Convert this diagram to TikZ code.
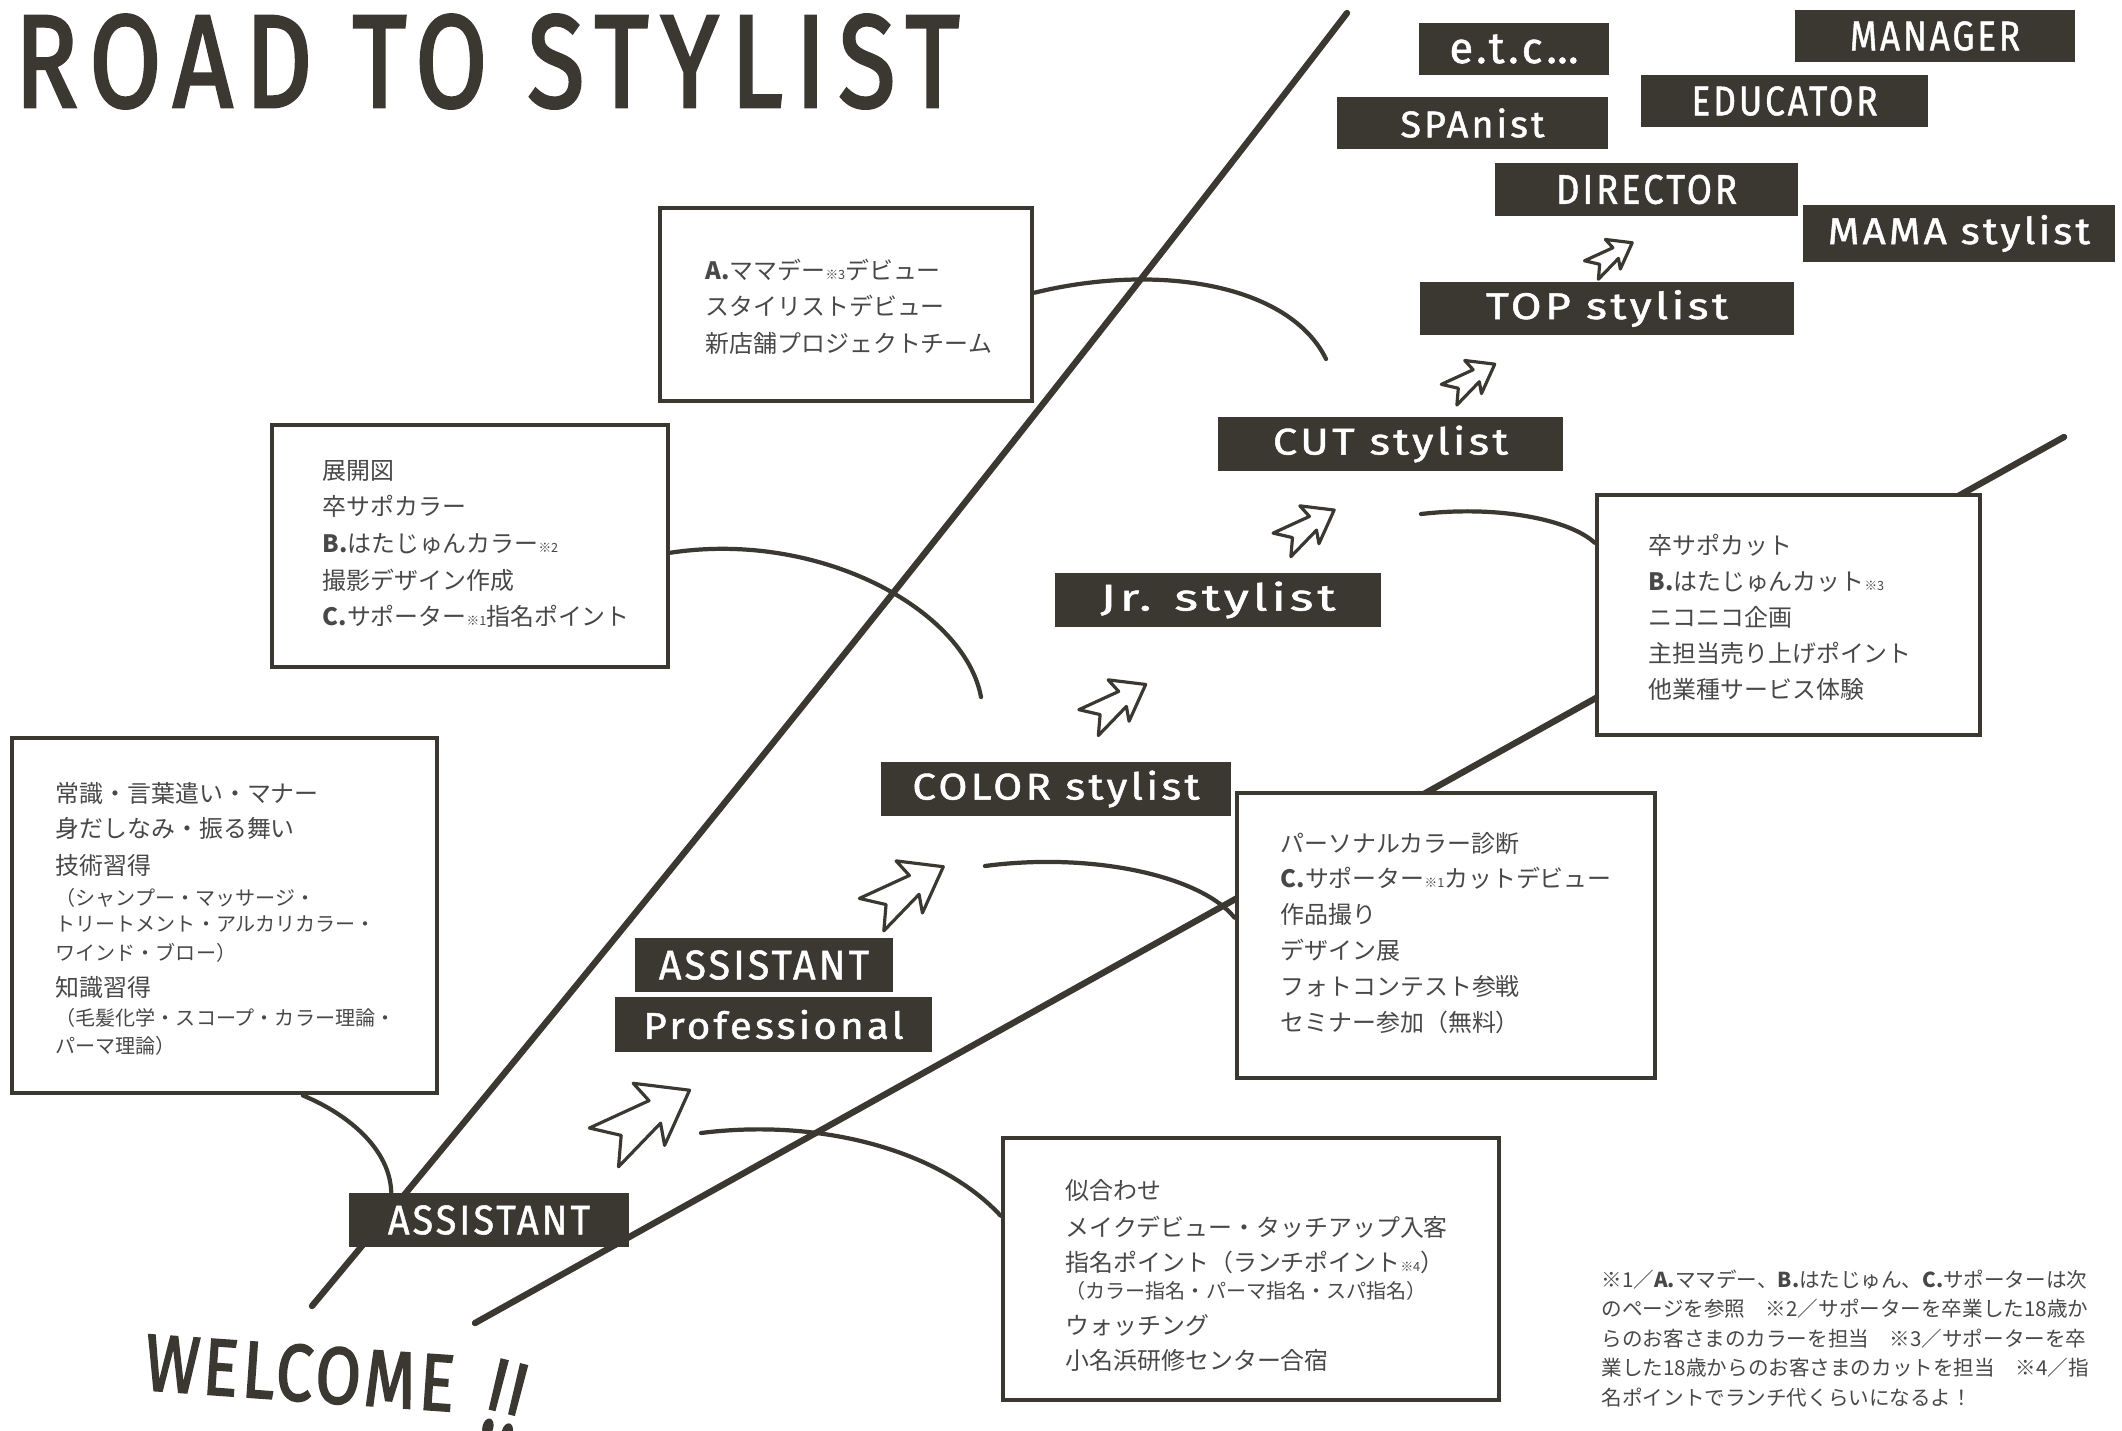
\documentclass[tikz,border=0pt]{standalone}
\usepackage{fontspec}
\usepackage{graphicx}
\newfontfamily\jp{Noto Sans CJK JP}
\newfontfamily\labf[LetterSpace=8, FakeBold=1.2]{Fira Sans}
\newfontfamily\titf[LetterSpace=12, FakeBold=2.5]{Fira Sans}
\newfontfamily\welf[LetterSpace=6, FakeBold=2.5]{Fira Sans}
\definecolor{ink}{HTML}{3B3731}
\definecolor{txt}{HTML}{484848}
\newcommand\lbl[2]{\resizebox{#1}{0.29cm}{\labf #2}}
\newcommand\smk[1]{{\fontsize{3.6pt}{4pt}\selectfont #1}}
\tikzset{
  road/.style={draw=ink, line width=1.8pt, line cap=round},
  conn/.style={draw=ink, line width=1.2pt, line cap=round},
  lab/.style={fill=ink, text=white, inner sep=0pt, minimum height=0.54cm},
  tbox/.style={draw=ink, line width=1.3pt, fill=white, inner sep=0pt},
  jl/.style={anchor=base west, inner sep=0pt, text=txt, font={\jp\fontsize{6.8pt}{8pt}\selectfont}},
  js/.style={jl, font={\jp\fontsize{5.7pt}{7pt}\selectfont}},
  fn/.style={jl, font={\jp\fontsize{5.85pt}{7pt}\selectfont}},
  fwd/.pic={\draw[ink, line width=0.9pt, fill=white, line join=round]
     (50,0) -- (2,32) -- (10,12) -- (-46,26) -- (-28,2) -- (-50,-20) -- (12,-12) -- (8,-34) -- cycle;}
}
\begin{document}
\begin{tikzpicture}[x=0.01cm, y=-0.01cm]
\useasboundingbox[fill=white] (0,0) rectangle (2122,1430);

% title
\node[anchor=north west, inner sep=0pt, text=ink] (title) at (14,14)
  {\resizebox{9.44cm}{0.92cm}{\titf ROAD TO STYLIST}};

% road lines
\coordinate (r1a) at (312,1306);
\coordinate (r1b) at (1347,13);
\coordinate (r2a) at (475,1323);
\coordinate (r2b) at (2064,437);
\draw[road] (r1a) .. controls (700,840) and (1050,400) .. (r1b);
\draw[road] (r2a) -- (r2b);

\coordinate (c2s) at (701,1133);
\coordinate (c3s) at (985,866);
\coordinate (c4e) at (981,697);
\coordinate (c5e) at (1326,359);
\coordinate (c6s) at (1421,514);

% text boxes
\node[tbox, minimum width=3.72cm, minimum height=1.93cm] (boxA) at (846,304.5) {};
\node[tbox, minimum width=3.96cm, minimum height=2.42cm] (boxB) at (470,546) {};
\node[tbox, minimum width=4.25cm, minimum height=3.55cm] (boxL) at (224.5,915.5) {};
\node[tbox, minimum width=3.83cm, minimum height=2.40cm] (boxR) at (1788.5,615) {};
\node[tbox, minimum width=4.18cm, minimum height=2.85cm] (boxP) at (1446,935.5) {};
\node[tbox, minimum width=4.96cm, minimum height=2.62cm] (boxN) at (1251,1269) {};

% label boxes
\node[lab, minimum width=2.80cm] (asst) at (489,1220) {\lbl{2.02cm}{ASSISTANT}};
\node[lab, minimum width=2.58cm] (asst2) at (764,965) {\lbl{2.10cm}{ASSISTANT}};
\node[lab, minimum width=3.17cm, minimum height=0.55cm] (prof) at (773.5,1024.5) {\lbl{2.60cm}{Professional}};
\node[lab, minimum width=3.50cm] (color) at (1056,789) {\lbl{2.87cm}{COLOR stylist}};
\node[lab, minimum width=3.26cm] (jr) at (1218,600) {\lbl{2.35cm}{Jr. stylist}};
\node[lab, minimum width=3.45cm] (cut) at (1390.5,444) {\lbl{2.35cm}{CUT stylist}};
\node[lab, minimum width=3.74cm, minimum height=0.53cm] (top) at (1607,308.5) {\lbl{2.42cm}{TOP stylist}};
\node[lab, minimum width=3.03cm, minimum height=0.53cm] (director) at (1646.5,189.5) {\lbl{1.81cm}{DIRECTOR}};
\node[lab, minimum width=3.12cm, minimum height=0.57cm] (mama) at (1959,233.5) {\lbl{2.62cm}{MAMA stylist}};
\node[lab, minimum width=2.71cm, minimum height=0.52cm] (spa) at (1472.5,123) {\lbl{1.44cm}{SPAnist}};
\node[lab, minimum width=2.87cm, minimum height=0.52cm] (educator) at (1784.5,101) {\lbl{1.86cm}{EDUCATOR}};
\node[lab, minimum width=1.90cm, minimum height=0.52cm] (etc) at (1514,49) {\resizebox{1.29cm}{!}{\labf e.t.c…}};
\node[lab, minimum width=2.80cm, minimum height=0.52cm] (manager) at (1935,36) {\lbl{1.70cm}{MANAGER}};

% connectors
\draw[conn] ([xshift=2.93cm]boxL.south west) .. controls (350,1115) and (390,1150) .. ([xshift=0.43cm]asst.north west);
\draw[conn] (c2s) .. controls (820,1118) and (940,1150) .. ([yshift=-0.80cm]boxN.north west);
\draw[conn] (c3s) .. controls (1090,852) and (1200,875) .. ([yshift=-1.27cm]boxP.north west);
\draw[conn] ([yshift=-1.30cm]boxB.north east) .. controls (820,530) and (965,610) .. (c4e);
\draw[conn] ([yshift=-0.87cm]boxA.north east) .. controls (1160,262) and (1290,285) .. (c5e);
\draw[conn] (c6s) .. controls (1500,505) and (1570,520) .. ([yshift=-0.50cm]boxR.north west);

% arrows
\pic[rotate=32, scale=1.05] (a1) at (645,1118) {fwd};
\pic[rotate=32, scale=0.88] (a2) at (906,890) {fwd};
\pic[rotate=32, scale=0.7] (a3) at (1116,703) {fwd};
\pic[rotate=32, scale=0.64] (a4) at (1307,527) {fwd};
\pic[rotate=32, scale=0.56] (a5) at (1471,379) {fwd};
\pic[rotate=32, scale=0.5] (a6) at (1611,256) {fwd};

% box texts
\foreach \t [count=\i] in {{{\bfseries A.}ママデー\smk{※3}デビュー},{スタイリストデビュー},{新店舗プロジェクトチーム}}
  \node[jl] (A\i) at (705,{279+36.5*(\i-1)}) {\t};
\foreach \t [count=\i] in {{展開図},{卒サポカラー},{{\bfseries B.}はたじゅんカラー\smk{※2}},{撮影デザイン作成},{{\bfseries C.}サポーター\smk{※1}指名ポイント}}
  \node[jl] (B\i) at (322,{479+36.7*(\i-1)}) {\t};
\foreach \t [count=\i] in {{卒サポカット},{{\bfseries B.}はたじゅんカット\smk{※3}},{ニコニコ企画},{主担当売り上げポイント},{他業種サービス体験}}
  \node[jl] (R\i) at (1648,{554+36.2*(\i-1)}) {\t};
\foreach \t [count=\i] in {{パーソナルカラー診断},{{\bfseries C.}サポーター\smk{※1}カットデビュー},{作品撮り},{デザイン展},{フォトコンテスト参戦},{セミナー参加（無料）}}
  \node[jl] (P\i) at (1280,{852+35.8*(\i-1)}) {\t};

\node[jl] (N1) at (1065,1199) {似合わせ};
\node[jl] (N2) at (1065,1236) {メイクデビュー・タッチアップ入客};
\node[jl] (N3) at (1065,1271) {指名ポイント（ランチポイント\smk{※4}）};
\node[js] (N4) at (1065,1298) {（カラー指名・パーマ指名・スパ指名）};
\node[jl] (N5) at (1065,1334) {ウォッチング};
\node[jl] (N6) at (1065,1369) {小名浜研修センター合宿};

\node[jl] (L1) at (55,802) {常識・言葉遣い・マナー};
\node[jl] (L2) at (55,837) {身だしなみ・振る舞い};
\node[jl] (L3) at (55,874) {技術習得};
\node[js] (L4) at (55,905) {（シャンプー・マッサージ・};
\node[js] (L5) at (55,931) {トリートメント・アルカリカラー・};
\node[js] (L6) at (55,960) {ワインド・ブロー）};
\node[jl] (L7) at (55,996) {知識習得};
\node[js] (L8) at (55,1025) {（毛髪化学・スコープ・カラー理論・};
\node[js] (L9) at (55,1053) {パーマ理論）};

% footnote
\foreach \t [count=\i] in {{※1／{\bfseries A.}ママデー、{\bfseries B.}はたじゅん、{\bfseries C.}サポーターは次},{のページを参照　※2／サポーターを卒業した18歳か},{らのお客さまのカラーを担当　※3／サポーターを卒},{業した18歳からのお客さまのカットを担当　※4／指},{名ポイントでランチ代くらいになるよ！}}
  \node[fn] (F\i) at (1601,{1287+29.5*(\i-1)}) {\t};

% welcome
\node[rotate=-4, text=ink, inner sep=0pt] (welcome) at (300,1373) {\resizebox{3.10cm}{0.56cm}{\welf WELCOME}};
\node[rotate=-14, text=ink, inner sep=0pt] (bang) at (505,1400) {\resizebox{0.36cm}{0.75cm}{\welf !!}};
\end{tikzpicture}
\end{document}
